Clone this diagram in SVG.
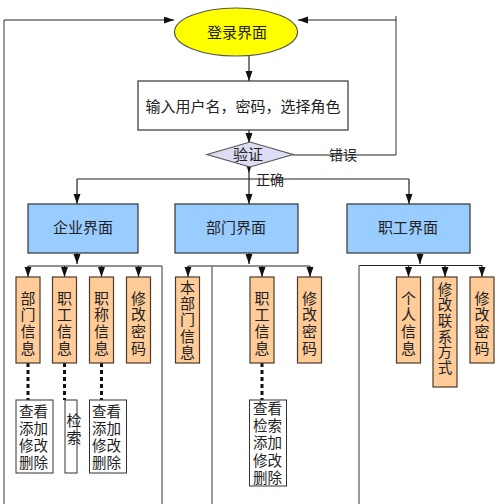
<svg xmlns="http://www.w3.org/2000/svg" width="500" height="504" viewBox="0 0 500 504">
<defs>
<marker id="ah" markerUnits="userSpaceOnUse" markerWidth="10" markerHeight="8" refX="10" refY="3.5" orient="auto">
<path d="M0,0 L10,3.5 L0,7 z" fill="#111"/>
</marker>
<style>
text{font-family:"Noto Sans CJK SC","Noto Sans",sans-serif;fill:#222;}
.t15{font-size:15px;text-anchor:middle;}
.t14{font-size:14px;text-anchor:middle;}
.v{font-size:15px;writing-mode:vertical-rl;letter-spacing:1.7px;}
.v6{font-size:14.5px;writing-mode:vertical-rl;letter-spacing:1.1px;}
.w{font-family:"Liberation Sans","Noto Sans CJK SC",sans-serif;font-size:14.5px;}
.c{fill:none;stroke:#222;stroke-width:1.2;}
.g{fill:none;stroke:#777;stroke-width:1.5;}
.a{marker-end:url(#ah);}
.d{fill:none;stroke:#111;stroke-width:3;stroke-dasharray:4 3;}
.blue{fill:#99ccff;stroke:#333;stroke-width:1.2;}
.org{fill:#ffcc99;stroke:#4a3a2a;stroke-width:1.2;}
.wb{fill:#fff;stroke:#333;stroke-width:1;}
</style>
</defs>
<rect width="500" height="504" fill="#fff"/>
<g id="connectors">
<path class="g" d="M4,504 V20"/>
<path class="c a" d="M4,20 H174"/>
<path class="g" d="M396,16 V155"/>
<path class="c a" d="M396,20 H298"/>
<path class="c" d="M293,155 H396"/>
<path class="c a" d="M249,56 V81"/>
<path class="c a" d="M249,130 V143"/>
<path class="c a" d="M249,166 V173"/>
<path class="c" d="M249,173 V179"/>
<path class="c" d="M77,179 H409"/>
<path class="c a" d="M77,179 V204"/>
<path class="c a" d="M249,179 V204"/>
<path class="c a" d="M409,179 V204"/>
<path class="c a" d="M77,253 V264"/>
<path class="c" d="M28,266 H162"/>
<path class="g" d="M162,266 V504"/>
<path class="c a" d="M28,266 V277"/>
<path class="c a" d="M64.5,266 V277"/>
<path class="c a" d="M101.5,266 V277"/>
<path class="c a" d="M138.5,266 V277"/>
<path class="c a" d="M249,253 V264"/>
<path class="c" d="M188,266 H310"/>
<path class="g" d="M212,266 V504"/>
<path class="c a" d="M188,266 V277"/>
<path class="c a" d="M262,266 V277"/>
<path class="c a" d="M310,266 V277"/>
<path class="c a" d="M420,253 V264"/>
<path class="c" d="M359,265.5 H482"/>
<path class="g" d="M359,265.5 V504"/>
<path class="c a" d="M408.5,265.5 V277"/>
<path class="c a" d="M445,265.5 V277"/>
<path class="c a" d="M482,265.5 V277"/>
<path class="d" d="M28,363 V400"/>
<path class="d" d="M64.5,363 V400"/>
<path class="d" d="M101.5,363 V400"/>
<path class="d" d="M262,363 V400"/>
</g>
<g id="login">
<ellipse cx="236" cy="32" rx="61.5" ry="24" fill="#ffff00" stroke="#555" stroke-width="1.2"/>
<text class="t15" x="237" y="38">登录界面</text>
</g>
<g id="input">
<rect x="138" y="81" width="210" height="49" fill="#fff" stroke="#333" stroke-width="1.2"/>
<text class="t15" x="243" y="112">输入用户名，密码，选择角色</text>
</g>
<g id="verify">
<polygon points="207,154.5 250,142 293,154.5 250,167" fill="#dcdcf4" stroke="#555" stroke-width="1.2"/>
<text class="t15" x="248" y="160">验证</text>
</g>
<g id="label-error"><text class="t14" x="343" y="160">错误</text></g>
<g id="label-ok"><text class="t14" x="270" y="185">正确</text></g>
<g id="company">
<rect class="blue" x="28" y="204" width="110" height="49"/>
<text class="t15" x="83" y="233">企业界面</text>
</g>
<g id="dept">
<rect class="blue" x="175" y="204" width="123" height="49"/>
<text class="t15" x="236" y="233">部门界面</text>
</g>
<g id="staff">
<rect class="blue" x="347" y="204" width="123" height="49"/>
<text class="t15" x="408" y="233">职工界面</text>
</g>
<g id="c-dept-info">
<rect class="org" x="16" y="277" width="24" height="86"/>
<text class="v" x="28" y="290.5">部门信息</text>
</g>
<g id="c-staff-info">
<rect class="org" x="52.5" y="277" width="24" height="86"/>
<text class="v" x="64.5" y="290.5">职工信息</text>
</g>
<g id="c-title-info">
<rect class="org" x="89.5" y="277" width="24" height="86"/>
<text class="v" x="101.5" y="290.5">职称信息</text>
</g>
<g id="c-pwd">
<rect class="org" x="126.5" y="277" width="24" height="86"/>
<text class="v" x="138.5" y="290.5">修改密码</text>
</g>
<g id="d-dept-info">
<rect class="org" x="175.5" y="277" width="24" height="86"/>
<text class="v" x="187.5" y="279.5" style="letter-spacing:1.3px">本部门信息</text>
</g>
<g id="d-staff-info">
<rect class="org" x="250" y="277" width="24" height="86"/>
<text class="v" x="262" y="290.5">职工信息</text>
</g>
<g id="d-pwd">
<rect class="org" x="297.5" y="277" width="24" height="86"/>
<text class="v" x="309.5" y="290.5">修改密码</text>
</g>
<g id="s-personal">
<rect class="org" x="396.5" y="277" width="24" height="86"/>
<text class="v" x="408.5" y="290.5">个人信息</text>
</g>
<g id="s-contact">
<rect class="org" x="433" y="277" width="24" height="110"/>
<text class="v6" x="445" y="282">修改联系方式</text>
</g>
<g id="s-pwd">
<rect class="org" x="470" y="277" width="24" height="86"/>
<text class="v" x="482" y="290.5">修改密码</text>
</g>
<g id="c-dept-ops">
<rect class="wb" x="16" y="400" width="37" height="73"/>
<text class="w" x="19" y="417"><tspan x="19">查看</tspan><tspan x="19" dy="17">添加</tspan><tspan x="19" dy="17">修改</tspan><tspan x="19" dy="17">删除</tspan></text>
</g>
<g id="c-staff-ops">
<rect class="wb" x="65" y="400" width="12" height="73"/>
<text class="v" x="74" y="413">检索</text>
</g>
<g id="c-title-ops">
<rect class="wb" x="89.5" y="400" width="37" height="73"/>
<text class="w" x="92" y="417"><tspan x="92">查看</tspan><tspan x="92" dy="17">添加</tspan><tspan x="92" dy="17">修改</tspan><tspan x="92" dy="17">删除</tspan></text>
</g>
<g id="d-staff-ops">
<rect class="wb" x="249.5" y="400" width="37" height="86"/>
<text class="w" x="253" y="414"><tspan x="253">查看</tspan><tspan x="253" dy="17.2">检索</tspan><tspan x="253" dy="17.2">添加</tspan><tspan x="253" dy="17.2">修改</tspan><tspan x="253" dy="17.2">删除</tspan></text>
</g>
</svg>
